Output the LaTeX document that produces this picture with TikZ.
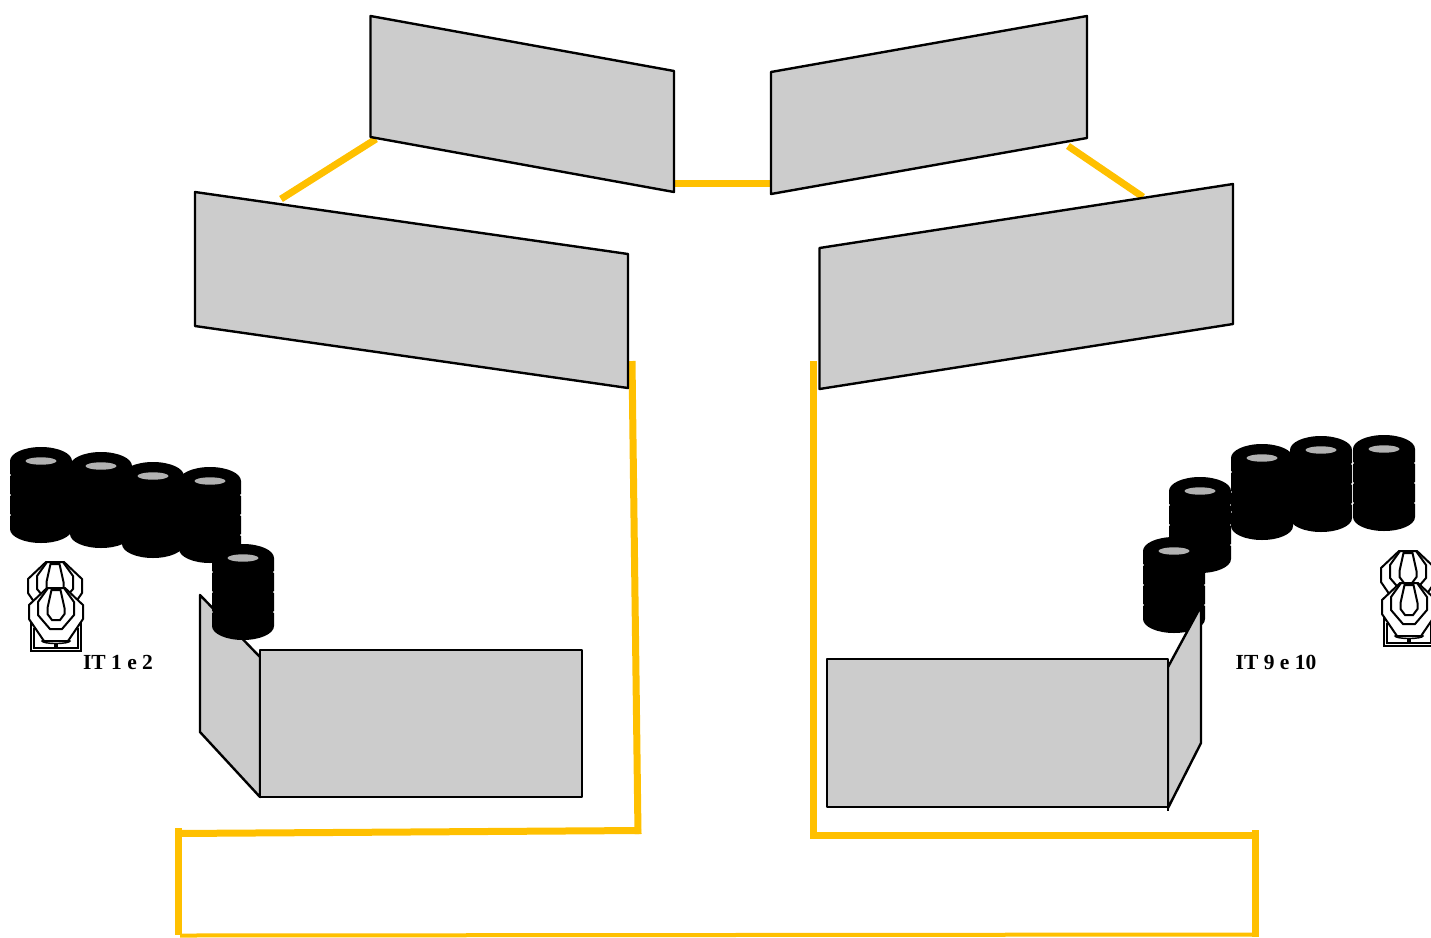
\documentclass[tikz,border=0pt]{standalone}
\usepackage{fontspec}
\setmainfont{Liberation Serif}
\definecolor{panelgray}{HTML}{CCCCCC}
\definecolor{hubgray}{HTML}{B2B2B2}
\definecolor{wire}{HTML}{FFC000}
\tikzset{
  panel/.style={draw=black,fill=panelgray,line width=2.4pt,line join=round},
  barrier/.style={draw=wire,line width=7pt},
  lbl/.style={font=\bfseries\fontsize{21.5}{23}\selectfont,inner sep=0pt,anchor=center},
  tgt/.style={draw=black,fill=white,line width=2pt,line join=miter},
  tyre/.pic={
    \fill[black] (-31,14) arc[x radius=31,y radius=14,start angle=180,end angle=360]
      -- (31,27) -- (29.5,28) -- (31,29) -- (31,47) -- (29.5,48) -- (31,49)
      -- (31,67) -- (29.5,68) -- (31,69) -- (31,82)
      arc[x radius=31,y radius=14,start angle=0,end angle=180]
      -- (-31,69) -- (-29.5,68) -- (-31,67) -- (-31,49) -- (-29.5,48) -- (-31,47)
      -- (-31,29) -- (-29.5,28) -- (-31,27) -- cycle;
    \fill[hubgray] (0,14) ellipse[x radius=15.5,y radius=3.7];
  },
  target/.pic={
    \path[tgt] (-9,0) -- (9,0) -- (27,17) -- (27,31) -- (12,53) -- (-12,53) -- (-27,31) -- (-27,17) -- cycle;
    \path[tgt] (-8,0) -- (8,0) -- (18,14) -- (18,27) -- (6,41) -- (-6,41) -- (-18,27) -- (-18,14) -- cycle;
    \path[tgt] (-4.5,2) -- (4.5,2) -- (8.5,20) -- (8.5,26) -- (4,32) -- (-4,32) -- (-8.5,26) -- (-8.5,20) -- cycle;
  },
  stand/.pic={
    \draw[black,line width=1.6pt] (-25,34) -- (-25,63) -- (25,63) -- (25,34)
      (-22,40) -- (-22,60) -- (22,60) -- (22,40) (-1,55) -- (-1,60) (1,55) -- (1,60);
    \draw[black,line width=1.4pt] (0,53) ellipse[x radius=14,y radius=2.5];
  }
}
\begin{document}
\begin{tikzpicture}[x=1pt,y=-1pt]
\useasboundingbox (0,0) rectangle (1431,937);
\begin{scope}
\clip (0,0) rectangle (1431,937);
% barriers
\draw[barrier] (281,199) -- (376,139);
\draw[barrier] (675,183) -- (771,183);
\draw[barrier] (1068,146) -- (1143,197);
\draw[barrier] (632,361) -- (638,834);
\draw[barrier] (641,830.5) -- (176,833.5);
\draw[barrier] (178.5,828) -- (178.5,935);
\draw[barrier,line width=4pt] (180,935.5) -- (1258,934.5);
\draw[barrier] (1255,830) -- (1255,937);
\draw[barrier] (813.5,361) -- (813.5,838);
\draw[barrier] (810,835) -- (1258,835);
% upper panels
\path[panel] (370.5,16) -- (674,71) -- (674,192) -- (370.5,137) -- cycle;
\path[panel] (771,72) -- (1087,16) -- (1087,138) -- (771,194) -- cycle;
\path[panel] (195,192) -- (628,254) -- (628,388) -- (195,326) -- cycle;
\path[panel] (819.5,248) -- (1233,184) -- (1233,324) -- (819.5,389) -- cycle;
% lower left
\path[panel] (200,595) -- (260,657) -- (260,797) -- (200,732) -- cycle;
\path[panel] (260,650) -- (582,650) -- (582,797) -- (260,797) -- cycle;
% tyres left
\pic at (41,447) {tyre};
\pic at (101,452) {tyre};
\pic at (153,462) {tyre};
\pic at (210,467) {tyre};
\pic at (243,544) {tyre};
% tyres right
\pic at (1200,477) {tyre};
\pic at (1262,444) {tyre};
\pic at (1321,436) {tyre};
\pic at (1384,435) {tyre};
\pic at (1174,537) {tyre};
% lower right
\path[panel] (1168,667) -- (1201,606) -- (1201,743) -- (1168,808) -- cycle;
\path[panel] (827,659) -- (1168,659) -- (1168,807) -- (827,807) -- cycle;
\draw[black,line width=2.4pt] (1168,805) -- (1168,811);
% targets
\pic at (55,562) {target};
\pic at (56,588) {stand};
\pic at (56,588) {target};
\pic at (1408,551) {target};
\pic at (1409,583) {stand};
\pic at (1409,583) {target};
\end{scope}
\node[lbl] (itl) at (118,662) {IT 1 e 2};
\node[lbl] (itr) at (1276,662) {IT 9 e 10};
\end{tikzpicture}
\end{document}
